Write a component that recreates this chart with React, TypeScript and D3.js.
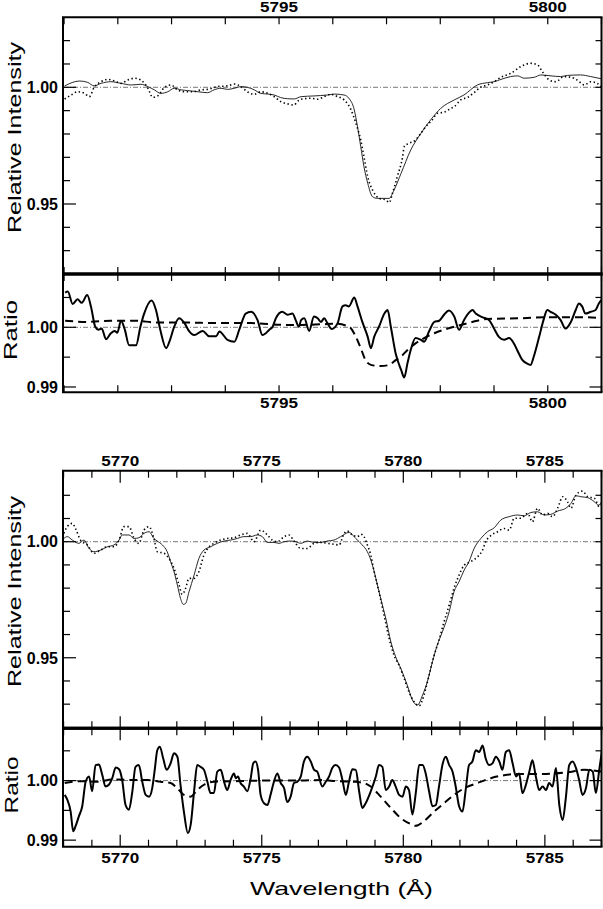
import React from "react";
import * as d3 from "d3";

type Pt = [number, number];

const FONT = "'Liberation Sans', Arial, Helvetica, sans-serif";

// ---- upper line: 5797 band ----
const upperTicks = [5791, 5792, 5793, 5794, 5795, 5796, 5797, 5798, 5799, 5800, 5801];
const upperLabels = [5795, 5800];

const upperSolid: Pt[] = [
  [5791.01, 1.0006], [5791.29, 1.0027], [5791.44, 1.0021], [5791.56, 1.0006], [5791.69, 1.0017],
  [5791.87, 1.0024], [5792.06, 1.0017], [5792.25, 1.001], [5792.43, 1.0013], [5792.56, 1.0003],
  [5792.68, 0.9989], [5792.8, 0.9974], [5792.93, 0.9981], [5793.05, 0.9996], [5793.18, 0.9989],
  [5793.3, 0.9986], [5793.49, 0.9981], [5793.67, 0.9977], [5793.79, 0.9989], [5793.92, 0.9996],
  [5794.04, 0.9991], [5794.17, 0.9996], [5794.29, 1.0003], [5794.41, 1.0], [5794.54, 0.9989],
  [5794.66, 0.9974], [5794.79, 0.9971], [5794.91, 0.9967], [5795.03, 0.9956], [5795.16, 0.9951],
  [5795.28, 0.995], [5795.41, 0.996], [5795.65, 0.9963], [5795.9, 0.9967], [5796.03, 0.9971],
  [5796.21, 0.9967], [5796.3, 0.9953], [5796.4, 0.9903], [5796.46, 0.9831], [5796.52, 0.9746],
  [5796.58, 0.966], [5796.65, 0.9589], [5796.74, 0.9531], [5796.83, 0.9524], [5797.05, 0.9524],
  [5797.14, 0.956], [5797.27, 0.9631], [5797.45, 0.9731], [5797.64, 0.9803], [5797.82, 0.986],
  [5798.01, 0.991], [5798.26, 0.9946], [5798.44, 0.9967], [5798.69, 1.001], [5798.88, 1.002],
  [5799.0, 1.0024], [5799.13, 1.0034], [5799.31, 1.0046], [5799.44, 1.0049], [5799.56, 1.0039],
  [5799.75, 1.0043], [5799.87, 1.0053], [5800.06, 1.0049], [5800.24, 1.0046], [5800.37, 1.0051],
  [5800.61, 1.0053], [5800.8, 1.0046], [5800.99, 1.0037],
];

const upperDotted: Pt[] = [
  [5791.01, 0.995], [5791.13, 0.9967], [5791.25, 0.9981], [5791.38, 0.9974], [5791.47, 0.996],
  [5791.56, 1.0], [5791.69, 1.0024], [5791.81, 1.0034], [5791.94, 1.0027], [5792.06, 1.0017],
  [5792.18, 1.0031], [5792.31, 1.0039], [5792.43, 1.0031], [5792.56, 0.9996], [5792.65, 0.9957],
  [5792.74, 0.9963], [5792.87, 1.0], [5792.99, 1.001], [5793.11, 0.9989], [5793.24, 0.9981],
  [5793.39, 0.9981], [5793.55, 0.9989], [5793.67, 0.9991], [5793.86, 1.0003], [5794.04, 1.0006],
  [5794.17, 1.0014], [5794.29, 1.0003], [5794.41, 0.9981], [5794.54, 0.997], [5794.66, 0.9981],
  [5794.79, 0.9974], [5794.91, 0.996], [5795.03, 0.9939], [5795.16, 0.9929], [5795.28, 0.9924],
  [5795.34, 0.9939], [5795.41, 0.9949], [5795.59, 0.9953], [5795.72, 0.9949], [5795.84, 0.996],
  [5795.96, 0.997], [5796.09, 0.996], [5796.21, 0.9946], [5796.34, 0.9903], [5796.43, 0.9846],
  [5796.52, 0.9774], [5796.58, 0.9703], [5796.65, 0.9617], [5796.74, 0.956], [5796.86, 0.9524],
  [5796.99, 0.9517], [5797.05, 0.9506], [5797.11, 0.9546], [5797.2, 0.9617], [5797.3, 0.9703],
  [5797.33, 0.9746], [5797.42, 0.976], [5797.54, 0.9774], [5797.64, 0.9803], [5797.73, 0.9831],
  [5797.85, 0.986], [5797.95, 0.9889], [5798.07, 0.9893], [5798.2, 0.991], [5798.26, 0.9917],
  [5798.38, 0.9946], [5798.51, 0.9957], [5798.63, 0.9977], [5798.75, 1.0], [5798.88, 1.001],
  [5799.0, 1.0024], [5799.13, 1.0043], [5799.31, 1.006], [5799.5, 1.0089], [5799.68, 1.0103],
  [5799.81, 1.0096], [5799.9, 1.0067], [5800.03, 1.0031], [5800.15, 1.0024], [5800.3, 1.0046],
  [5800.43, 1.0043], [5800.55, 1.0031], [5800.68, 1.001], [5800.8, 1.0024], [5800.92, 1.0017],
  [5800.99, 1.0003],
];

const upperRatio: Pt[] = [
  [5791.02, 1.0058], [5791.07, 1.006], [5791.16, 1.0039], [5791.25, 1.0047], [5791.33, 1.0041],
  [5791.43, 1.0054], [5791.5, 1.0035], [5791.58, 1.0001], [5791.64, 0.9996], [5791.7, 0.9998],
  [5791.78, 0.998], [5791.87, 0.999], [5791.94, 0.9994], [5791.99, 0.9991], [5792.06, 1.0011],
  [5792.13, 0.9996], [5792.21, 0.997], [5792.34, 0.997], [5792.42, 1.0001], [5792.49, 1.0023],
  [5792.63, 1.0045], [5792.71, 1.0029], [5792.79, 0.9996], [5792.9, 0.9965], [5792.96, 0.9976],
  [5793.05, 1.0001], [5793.14, 1.0015], [5793.24, 1.0007], [5793.33, 0.9993], [5793.42, 0.9987],
  [5793.58, 0.9994], [5793.7, 0.9985], [5793.83, 0.9985], [5793.89, 0.9993], [5794.04, 0.9979],
  [5794.17, 0.9976], [5794.26, 0.9996], [5794.38, 1.0023], [5794.48, 1.0026], [5794.6, 1.0012],
  [5794.69, 0.9987], [5794.82, 0.9996], [5794.88, 1.0001], [5794.94, 1.0015], [5795.06, 1.0026],
  [5795.16, 1.0021], [5795.25, 1.0023], [5795.31, 1.0012], [5795.37, 1.0001], [5795.41, 1.0012],
  [5795.47, 1.0015], [5795.56, 0.9994], [5795.65, 1.0018], [5795.72, 1.0015], [5795.78, 1.0009],
  [5795.84, 1.0015], [5795.9, 1.0007], [5795.98, 0.9997], [5796.09, 1.0007], [5796.18, 1.0035],
  [5796.24, 1.0037], [5796.3, 1.0035], [5796.4, 1.005], [5796.46, 1.0035], [5796.55, 1.0009],
  [5796.65, 0.9984], [5796.71, 0.9965], [5796.77, 0.9984], [5796.86, 1.0001], [5796.96, 1.0023],
  [5797.02, 1.0029], [5797.08, 1.0001], [5797.17, 0.9956], [5797.27, 0.9929], [5797.33, 0.9916],
  [5797.39, 0.994], [5797.45, 0.9962], [5797.54, 0.9982], [5797.64, 0.9979], [5797.7, 0.9976],
  [5797.79, 0.9993], [5797.89, 1.0009], [5797.98, 1.0011], [5798.07, 1.0021], [5798.16, 1.0028],
  [5798.26, 1.0018], [5798.35, 0.9996], [5798.44, 1.0012], [5798.54, 1.0025], [5798.6, 1.0029],
  [5798.66, 1.0023], [5798.78, 1.0017], [5798.91, 1.0012], [5799.0, 0.9998], [5799.09, 0.9984],
  [5799.19, 0.9979], [5799.28, 0.9982], [5799.37, 0.9973], [5799.43, 0.9962], [5799.53, 0.9945],
  [5799.62, 0.9939], [5799.68, 0.9937], [5799.74, 0.9951], [5799.84, 0.9984], [5799.93, 1.0015],
  [5799.99, 1.0029], [5800.05, 1.0026], [5800.15, 1.0021], [5800.24, 1.0012], [5800.33, 0.9998],
  [5800.43, 1.0009], [5800.52, 1.0029], [5800.58, 1.004], [5800.64, 1.0035], [5800.7, 1.0023],
  [5800.8, 1.0026], [5800.89, 1.0029], [5800.95, 1.004], [5801.0, 1.0046],
];

const upperModel: Pt[] = [
  [5791.02, 1.0011], [5791.44, 1.0009], [5791.87, 1.0011], [5792.31, 1.0011], [5792.74, 1.0008],
  [5793.24, 1.0008], [5793.86, 1.0007], [5794.48, 1.0007], [5795.1, 1.0004], [5795.41, 1.0004],
  [5795.78, 1.0005], [5796.09, 1.0006], [5796.24, 1.0003], [5796.34, 0.9998], [5796.43, 0.9984],
  [5796.52, 0.9965], [5796.61, 0.9945], [5796.71, 0.9937], [5796.89, 0.9935], [5797.05, 0.9937],
  [5797.17, 0.9945], [5797.27, 0.9951], [5797.39, 0.9962], [5797.54, 0.9973], [5797.7, 0.9982],
  [5797.89, 0.999], [5798.07, 0.9996], [5798.26, 1.0001], [5798.51, 1.0007], [5798.69, 1.0011],
  [5798.88, 1.0014], [5799.44, 1.0015], [5800.06, 1.0017], [5800.68, 1.0017], [5801.0, 1.0015],
];

// ---- lower line: 5780 band ----
const lowerTicks = [5768, 5769, 5770, 5771, 5772, 5773, 5774, 5775, 5776, 5777, 5778, 5779, 5780, 5781, 5782, 5783, 5784, 5785, 5786, 5787];
const lowerLabels = [5770, 5775, 5780, 5785];

const lowerSolid: Pt[] = [
  [5768.01, 1.0014], [5768.13, 1.0022], [5768.31, 1.0007], [5768.54, 0.9993], [5768.72, 1.0007],
  [5768.9, 0.9971], [5769.07, 0.9957], [5769.31, 0.9964], [5769.54, 0.9978], [5769.78, 0.9986],
  [5769.96, 1.0007], [5770.07, 1.0029], [5770.31, 1.0029], [5770.49, 1.0014], [5770.66, 1.0017],
  [5770.84, 1.0036], [5771.02, 1.0043], [5771.19, 1.0014], [5771.31, 1.0003], [5771.49, 0.9986],
  [5771.66, 0.9957], [5771.78, 0.9914], [5771.9, 0.9871], [5772.02, 0.9813], [5772.13, 0.9756],
  [5772.23, 0.973], [5772.31, 0.9734], [5772.43, 0.9784], [5772.61, 0.9856], [5772.78, 0.9928],
  [5772.96, 0.9964], [5773.19, 0.9978], [5773.43, 0.9993], [5773.67, 1.0003], [5773.9, 1.0007],
  [5774.14, 1.0014], [5774.37, 1.0022], [5774.61, 1.0022], [5774.84, 1.0029], [5775.02, 1.0022],
  [5775.2, 0.9997], [5775.43, 0.9997], [5775.61, 0.9993], [5775.79, 1.0], [5776.02, 1.0003],
  [5776.2, 1.0], [5776.38, 0.9993], [5776.61, 1.0003], [5776.85, 0.9997], [5777.08, 0.9997],
  [5777.32, 1.0003], [5777.55, 1.0007], [5777.79, 1.0022], [5778.08, 1.004], [5778.32, 1.0014],
  [5778.55, 0.9986], [5778.73, 0.9957], [5778.91, 0.9899], [5779.03, 0.9842], [5779.2, 0.9756],
  [5779.38, 0.967], [5779.56, 0.9569], [5779.73, 0.9504], [5779.91, 0.9454], [5780.14, 0.9382],
  [5780.32, 0.9318], [5780.5, 0.9296], [5780.68, 0.9339], [5780.85, 0.9397], [5781.03, 0.9483],
  [5781.2, 0.9555], [5781.38, 0.9612], [5781.62, 0.9698], [5781.79, 0.9784], [5781.97, 0.9828],
  [5782.15, 0.9878], [5782.32, 0.9914], [5782.5, 0.9971], [5782.74, 1.0014], [5782.97, 1.0043],
  [5783.21, 1.006], [5783.44, 1.0093], [5783.74, 1.0108], [5784.03, 1.0115], [5784.27, 1.0112],
  [5784.51, 1.0126], [5784.74, 1.0129], [5784.98, 1.0115], [5785.21, 1.0118], [5785.45, 1.0132],
  [5785.74, 1.0144], [5785.92, 1.0165], [5786.1, 1.0198], [5786.27, 1.0194], [5786.51, 1.019],
  [5786.75, 1.0172], [5786.9, 1.0158], [5787.02, 1.0175],
];

const lowerDotted: Pt[] = [
  [5768.01, 1.0036], [5768.13, 1.0065], [5768.31, 1.0079], [5768.42, 1.0057], [5768.6, 1.0007],
  [5768.84, 0.9986], [5769.07, 0.995], [5769.31, 0.9964], [5769.54, 0.9978], [5769.78, 0.9978],
  [5769.96, 1.0007], [5770.13, 1.0065], [5770.31, 1.0065], [5770.49, 1.0014], [5770.66, 0.9993],
  [5770.84, 1.005], [5771.02, 1.0065], [5771.19, 1.0014], [5771.31, 0.9957], [5771.55, 0.995],
  [5771.72, 0.9928], [5771.9, 0.9885], [5772.08, 0.9813], [5772.19, 0.9773], [5772.31, 0.9799],
  [5772.43, 0.9842], [5772.61, 0.9842], [5772.78, 0.9871], [5772.96, 0.9943], [5773.14, 0.9978],
  [5773.31, 0.9993], [5773.55, 1.0007], [5773.78, 1.0014], [5774.02, 1.0017], [5774.25, 1.0029],
  [5774.49, 1.0036], [5774.73, 1.0], [5774.96, 1.005], [5775.2, 1.0029], [5775.37, 1.0007],
  [5775.55, 1.0], [5775.79, 1.0022], [5775.96, 1.0029], [5776.14, 1.0003], [5776.38, 0.9971],
  [5776.61, 0.9971], [5776.85, 0.9993], [5777.08, 0.9997], [5777.32, 0.9993], [5777.55, 0.9989],
  [5777.73, 0.9986], [5777.91, 1.0036], [5778.02, 1.0046], [5778.2, 1.0029], [5778.38, 1.0022],
  [5778.5, 1.0032], [5778.61, 1.0022], [5778.73, 0.9986], [5778.85, 0.9943], [5778.97, 0.9871],
  [5779.14, 0.9784], [5779.32, 0.9684], [5779.5, 0.9583], [5779.67, 0.9511], [5779.85, 0.9468],
  [5780.03, 0.9411], [5780.2, 0.9353], [5780.38, 0.931], [5780.56, 0.9293], [5780.73, 0.9339],
  [5780.91, 0.9425], [5781.09, 0.9511], [5781.26, 0.9576], [5781.44, 0.9655], [5781.62, 0.9727],
  [5781.79, 0.9799], [5781.97, 0.9856], [5782.15, 0.9899], [5782.38, 0.9914], [5782.62, 0.9935],
  [5782.8, 0.9964], [5782.91, 1.0], [5783.09, 1.0026], [5783.33, 1.0043], [5783.56, 1.0057],
  [5783.74, 1.005], [5783.92, 1.0101], [5784.15, 1.0101], [5784.39, 1.0122], [5784.56, 1.0086],
  [5784.74, 1.0144], [5784.92, 1.0115], [5785.09, 1.0122], [5785.27, 1.0108], [5785.45, 1.0144],
  [5785.63, 1.0194], [5785.8, 1.0172], [5785.92, 1.0144], [5786.1, 1.0201], [5786.33, 1.0218],
  [5786.51, 1.0194], [5786.75, 1.0187], [5786.92, 1.0151], [5787.02, 1.0165],
];

const lowerRatio: Pt[] = [
  [5768.04, 0.9976], [5768.13, 0.9968], [5768.25, 0.9948], [5768.34, 0.9915], [5768.42, 0.9923],
  [5768.54, 0.994], [5768.66, 0.9957], [5768.78, 0.9998], [5768.9, 1.0007], [5769.01, 0.9982],
  [5769.13, 1.0026], [5769.25, 1.0027], [5769.37, 1.0009], [5769.48, 0.999], [5769.6, 0.9993],
  [5769.72, 1.0004], [5769.84, 1.0022], [5769.96, 1.0019], [5770.07, 1.0001], [5770.19, 0.9959],
  [5770.31, 0.9951], [5770.43, 0.9982], [5770.54, 1.0023], [5770.66, 1.0026], [5770.78, 0.9998],
  [5770.9, 0.9976], [5771.02, 0.9973], [5771.13, 0.9987], [5771.22, 1.0018], [5771.31, 1.0051],
  [5771.4, 1.0057], [5771.52, 1.0037], [5771.64, 1.0018], [5771.78, 1.0029], [5771.9, 1.0046],
  [5772.02, 1.004], [5772.13, 0.9993], [5772.25, 0.9948], [5772.39, 0.9912], [5772.49, 0.9926],
  [5772.61, 0.9982], [5772.72, 1.0026], [5772.84, 1.0023], [5772.96, 1.0018], [5773.08, 0.9998],
  [5773.19, 0.9979], [5773.31, 0.9979], [5773.43, 1.0015], [5773.55, 1.0018], [5773.67, 0.9998],
  [5773.78, 0.9984], [5773.9, 1.0001], [5774.02, 1.0012], [5774.08, 1.0004], [5774.16, 1.0007],
  [5774.25, 0.9996], [5774.37, 0.999], [5774.49, 0.9982], [5774.61, 1.0004], [5774.7, 1.0029],
  [5774.78, 1.0032], [5774.87, 1.0018], [5774.96, 0.9976], [5775.08, 0.9962], [5775.2, 0.9959],
  [5775.31, 0.9976], [5775.43, 0.9998], [5775.55, 1.0012], [5775.67, 0.9996], [5775.79, 0.9987],
  [5775.9, 0.9964], [5776.02, 0.9973], [5776.14, 0.9996], [5776.26, 0.9998], [5776.38, 1.0007],
  [5776.49, 1.0032], [5776.61, 1.004], [5776.73, 1.0032], [5776.85, 1.0018], [5776.96, 1.0015],
  [5777.14, 0.999], [5777.26, 0.9998], [5777.38, 1.0007], [5777.49, 1.0021], [5777.61, 1.0026],
  [5777.73, 1.0022], [5777.85, 1.0001], [5777.97, 0.9976], [5778.08, 0.9998], [5778.2, 1.0019],
  [5778.32, 1.0018], [5778.44, 0.9982], [5778.55, 0.9954], [5778.67, 0.9962], [5778.85, 0.9982],
  [5779.03, 1.0007], [5779.14, 1.0026], [5779.26, 1.0023], [5779.38, 0.9984], [5779.5, 0.999],
  [5779.61, 1.0001], [5779.73, 0.999], [5779.85, 0.9976], [5779.97, 0.9973], [5780.09, 0.999],
  [5780.2, 0.9984], [5780.32, 0.9943], [5780.44, 0.9979], [5780.56, 1.0026], [5780.68, 1.0026],
  [5780.79, 1.0012], [5780.91, 0.9982], [5781.03, 0.9957], [5781.15, 0.9959], [5781.26, 0.999],
  [5781.38, 1.0026], [5781.5, 1.004], [5781.62, 1.0026], [5781.74, 1.0015], [5781.85, 0.999],
  [5781.97, 0.9957], [5782.09, 0.9948], [5782.21, 0.9987], [5782.32, 1.0026], [5782.44, 1.0032],
  [5782.56, 1.0051], [5782.68, 1.0048], [5782.8, 1.0059], [5782.91, 1.0037], [5783.03, 1.0026],
  [5783.15, 1.0029], [5783.27, 1.004], [5783.39, 1.0032], [5783.5, 1.0018], [5783.62, 1.0048],
  [5783.74, 1.0051], [5783.86, 1.0029], [5783.98, 1.0007], [5784.09, 1.0012], [5784.21, 0.9979],
  [5784.33, 0.9993], [5784.45, 1.0015], [5784.56, 1.0034], [5784.68, 1.0007], [5784.8, 0.9984],
  [5784.92, 0.999], [5785.04, 0.9984], [5785.15, 0.9996], [5785.27, 0.999], [5785.39, 1.0021],
  [5785.51, 0.9959], [5785.63, 0.9934], [5785.74, 0.9971], [5785.86, 1.0026], [5785.98, 1.0032],
  [5786.1, 1.0021], [5786.21, 1.0001], [5786.33, 0.9976], [5786.45, 0.9987], [5786.57, 1.0018],
  [5786.69, 1.0015], [5786.8, 0.9979], [5786.92, 1.0018], [5787.02, 1.0051],
];

const lowerModel: Pt[] = [
  [5768.04, 0.9996], [5768.6, 0.9999], [5769.19, 0.9998], [5769.78, 1.0002], [5770.49, 1.0001],
  [5770.96, 1.0001], [5771.43, 0.9998], [5771.78, 0.9996], [5772.02, 0.9987], [5772.25, 0.9976],
  [5772.49, 0.9973], [5772.72, 0.9984], [5772.96, 0.9993], [5773.31, 0.9998], [5774.02, 0.9999],
  [5775.2, 1.0], [5776.38, 1.0], [5777.08, 1.0001], [5777.67, 0.9999], [5778.26, 0.9998],
  [5778.61, 0.9996], [5778.85, 0.999], [5779.2, 0.9973], [5779.56, 0.9954], [5779.91, 0.9937],
  [5780.26, 0.9927], [5780.44, 0.9924], [5780.73, 0.9932], [5781.09, 0.9948], [5781.44, 0.9962],
  [5781.79, 0.9976], [5782.15, 0.9987], [5782.62, 0.9996], [5783.09, 1.0004], [5783.56, 1.0009],
  [5784.03, 1.0011], [5784.62, 1.0011], [5785.33, 1.0012], [5785.8, 1.0014], [5786.39, 1.0018],
  [5787.02, 1.0015],
];

const intensityTicks = [0.93, 0.94, 0.95, 0.96, 0.97, 0.98, 0.99, 1.0, 1.01, 1.02];
const intensityLabels = [0.95, 1.0];
const ratioTicks = [0.99, 0.995, 1.0, 1.005];
const ratioLabels = [0.99, 1.0];

const LEFT = 63;
const RIGHT = 601.5;

type Series = { data: Pt[]; kind: "solid" | "dots" | "thick" | "dash" };

type PanelProps = {
  id: string;
  x: d3.ScaleLinear<number, number>;
  top: number;
  bottom: number;
  domain: [number, number];
  yTicks: number[];
  yLabels: number[];
  xTicks: number[];
  xMajor: (v: number) => boolean;
  xLabels: number[];
  labelSide: "top" | "bottom";
  labelBaseline: number;
  topWidth: number;
  bottomWidth: number;
  series: Series[];
};

const styles: Record<Series["kind"], React.SVGProps<SVGPathElement>> = {
  solid: { stroke: "#111", strokeWidth: 0.9 },
  dots: { stroke: "#000", strokeWidth: 1.6, strokeDasharray: "1.4,2.6" },
  thick: { stroke: "#000", strokeWidth: 2 },
  dash: { stroke: "#000", strokeWidth: 2, strokeDasharray: "8,5" },
};

function Panel(p: PanelProps) {
  const y = d3.scaleLinear().domain(p.domain).range([p.bottom, p.top]);
  const line = d3
    .line<Pt>()
    .x(d => p.x(d[0]))
    .y(d => y(d[1]))
    .curve(d3.curveMonotoneX);
  const isLabel = (v: number) => p.yLabels.some(l => Math.abs(l - v) < 1e-6);

  return (
    <g>
      <defs>
        <clipPath id={p.id}>
          <rect x={LEFT} y={p.top} width={RIGHT - LEFT} height={p.bottom - p.top} />
        </clipPath>
      </defs>
      <line
        x1={LEFT} x2={RIGHT} y1={y(1)} y2={y(1)}
        stroke="#555" strokeWidth={0.8} strokeDasharray="5,2,1,2"
      />
      <g clipPath={`url(#${p.id})`} fill="none">
        {p.series.map((s, i) => (
          <path key={i} d={line(s.data) || ""} {...styles[s.kind]} strokeLinejoin="round" />
        ))}
      </g>
      {/* x ticks, inward on both edges */}
      <g stroke="#000" strokeWidth={1.2}>
        {p.xTicks.map(t => {
          const len = p.xMajor(t) ? 12 : 7;
          const xx = p.x(t);
          return (
            <g key={t}>
              <line x1={xx} x2={xx} y1={p.top} y2={p.top + len} />
              <line x1={xx} x2={xx} y1={p.bottom} y2={p.bottom - len} />
            </g>
          );
        })}
        {p.yTicks.map(t => {
          const major = isLabel(t);
          const yy = y(t);
          return (
            <g key={t}>
              <line x1={LEFT} x2={LEFT + (major ? 13 : 7)} y1={yy} y2={yy} />
              <line x1={RIGHT} x2={RIGHT - (major && p.yTicks.length < 6 ? 12 : 6)} y1={yy} y2={yy} />
            </g>
          );
        })}
      </g>
      {/* frame */}
      <g stroke="#000" strokeWidth={2}>
        <line x1={LEFT} x2={LEFT} y1={p.top} y2={p.bottom} />
        <line x1={RIGHT} x2={RIGHT} y1={p.top} y2={p.bottom} />
      </g>
      <line x1={LEFT - 1} x2={RIGHT + 1} y1={p.top} y2={p.top} stroke="#000" strokeWidth={p.topWidth} />
      <line x1={LEFT - 1} x2={RIGHT + 1} y1={p.bottom} y2={p.bottom} stroke="#000" strokeWidth={p.bottomWidth} />
      {/* labels */}
      <g fontFamily={FONT} fontWeight="bold" fill="#000">
        {p.yLabels.map(v => (
          <text key={v} x={58} y={y(v)} dy="0.36em" textAnchor="end" fontSize={16}>
            {v.toFixed(2)}
          </text>
        ))}
        {p.xLabels.map(v => (
          <text
            key={v}
            x={p.x(v) - 19}
            y={p.labelBaseline}
            fontSize={14}
            textLength={38}
            lengthAdjust="spacingAndGlyphs"
          >
            {v}
          </text>
        ))}
      </g>
    </g>
  );
}

function VTitle({ x, y, text, length }: { x: number; y: number; text: string; length: number }) {
  return (
    <text
      transform={`translate(${x},${y}) rotate(-90)`}
      x={-length / 2}
      fontFamily={FONT}
      fontSize={19}
      textLength={length}
      lengthAdjust="spacingAndGlyphs"
    >
      {text}
    </text>
  );
}

export default function App() {
  const xUpper = d3.scaleLinear().domain([5790.98, 5801.0]).range([LEFT, RIGHT]);
  const xLower = d3.scaleLinear().domain([5767.98, 5787.0]).range([LEFT, RIGHT]);

  return (
    <svg
      width={603}
      height={909}
      style={{ position: "absolute", left: 0, top: 0, background: "#fff" }}
    >
      <rect width={603} height={909} fill="#fff" />
      <Panel
        id="pa" x={xUpper} top={17.3} bottom={274} domain={[0.92, 1.03]}
        yTicks={intensityTicks} yLabels={intensityLabels}
        xTicks={upperTicks} xMajor={() => false} xLabels={upperLabels}
        labelSide="top" labelBaseline={12} topWidth={2} bottomWidth={3}
        series={[{ data: upperSolid, kind: "solid" }, { data: upperDotted, kind: "dots" }]}
      />
      <Panel
        id="pb" x={xUpper} top={274} bottom={392.3} domain={[0.98911, 1.00893]}
        yTicks={ratioTicks} yLabels={ratioLabels}
        xTicks={upperTicks} xMajor={() => false} xLabels={upperLabels}
        labelSide="bottom" labelBaseline={408} topWidth={3} bottomWidth={2}
        series={[{ data: upperModel, kind: "dash" }, { data: upperRatio, kind: "thick" }]}
      />
      <Panel
        id="pc" x={xLower} top={470.7} bottom={728.3} domain={[0.9196, 1.0306]}
        yTicks={intensityTicks} yLabels={intensityLabels}
        xTicks={lowerTicks} xMajor={v => v % 5 === 0} xLabels={lowerLabels}
        labelSide="top" labelBaseline={466} topWidth={2} bottomWidth={3}
        series={[{ data: lowerSolid, kind: "solid" }, { data: lowerDotted, kind: "dots" }]}
      />
      <Panel
        id="pd" x={xLower} top={728.3} bottom={846.7} domain={[0.9889, 1.00878]}
        yTicks={ratioTicks} yLabels={ratioLabels}
        xTicks={lowerTicks} xMajor={v => v % 5 === 0} xLabels={lowerLabels}
        labelSide="bottom" labelBaseline={863} topWidth={3} bottomWidth={2}
        series={[{ data: lowerModel, kind: "dash" }, { data: lowerRatio, kind: "thick" }]}
      />
      <VTitle x={21} y={137.5} text="Relative Intensity" length={191} />
      <VTitle x={17} y={330} text="Ratio" length={60} />
      <VTitle x={21} y={591.5} text="Relative Intensity" length={191} />
      <VTitle x={18} y={785} text="Ratio" length={57} />
      <text
        x={250}
        y={895}
        fontFamily={FONT}
        fontSize={19}
        textLength={183}
        lengthAdjust="spacingAndGlyphs"
      >
        Wavelength (Å)
      </text>
    </svg>
  );
}
